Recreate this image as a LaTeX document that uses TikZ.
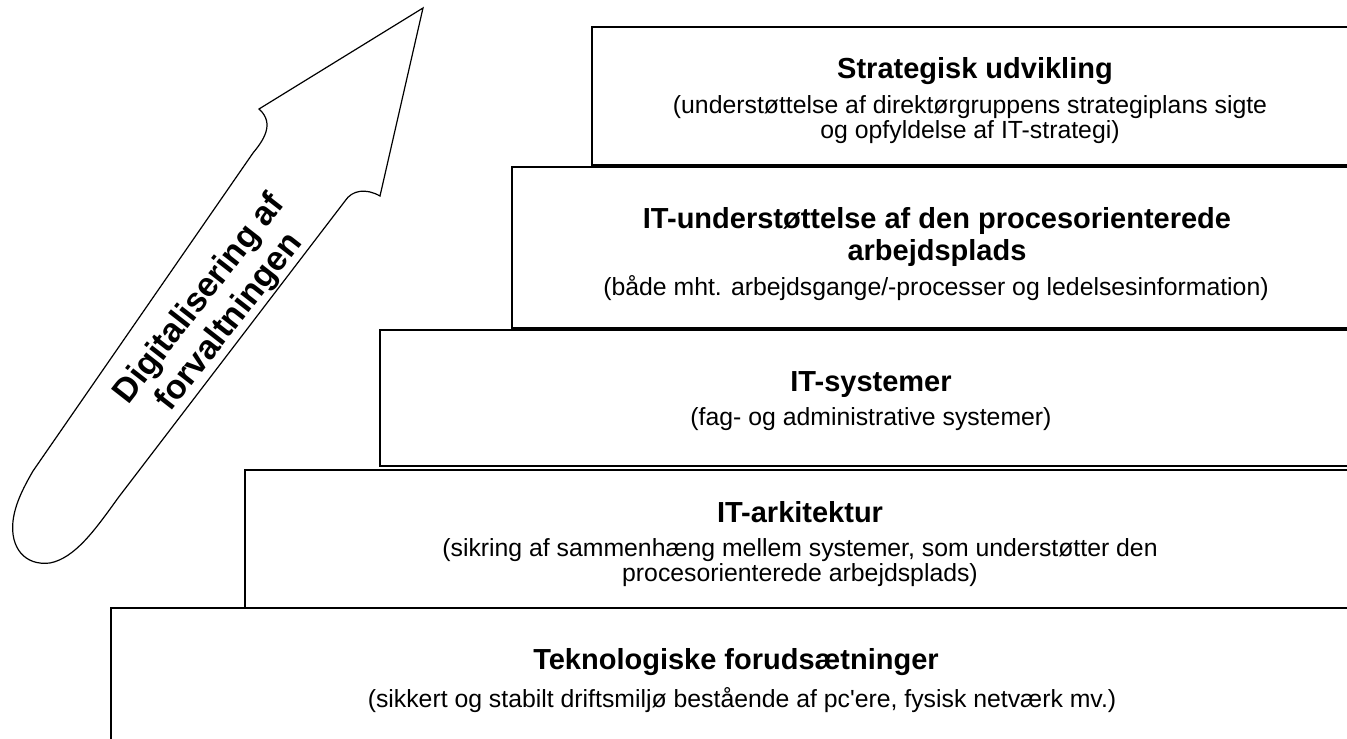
\documentclass[tikz,border=0pt]{standalone}
\usepackage{fontspec}
\newfontfamily\arialfont{Liberation Sans}
\begin{document}
\begin{tikzpicture}[x=1pt,y=-1pt,
  box/.style={draw=black,line width=1.3pt,fill=white,rectangle,inner sep=0pt,outer sep=0pt,anchor=north west},
  ttl/.style={font=\arialfont\fontsize{29}{32}\selectfont\bfseries,anchor=base,inner sep=0pt},
  body/.style={font=\arialfont\fontsize{24.8}{25}\selectfont,anchor=base,inner sep=0pt},
  arrowtxt/.style={font=\arialfont\fontsize{34}{38}\selectfont\bfseries,align=center,inner sep=0pt}]
\useasboundingbox (0,0) rectangle (1347,739);
\clip (0,0) rectangle (1347,739);
% boxes (right sides run off the picture)
\node[box,minimum width=800pt,minimum height=138pt] (b1) at (592,27) {};
\node[box,minimum width=880pt,minimum height=161pt] (b2) at (512,167) {};
\node[box,minimum width=1000pt,minimum height=136pt] (b3) at (380,330) {};
\node[box,minimum width=1150pt,minimum height=138pt] (b4) at (245,470) {};
\node[box,minimum width=1300pt,minimum height=200pt] (b5) at (111,608) {};
% texts
\node[ttl] (t1) at (975,78) {Strategisk udvikling};
\node[body] (s1a) at (970,113) {(understøttelse af direktørgruppens strategiplans sigte};
\node[body] (s1b) at (970,138) {og opfyldelse af IT-strategi)};
\node[ttl] (t2a) at (937,228) {IT-understøttelse af den procesorienterede};
\node[ttl] (t2b) at (937,260) {arbejdsplads};
\node[body] (s2) at (936,295) {(både mht. arbejdsgange/-processer og ledelsesinformation)};
\node[ttl] (t3) at (871,391) {IT-systemer};
\node[body] (s3) at (871,425) {(fag- og administrative systemer)};
\node[ttl] (t4) at (800,522) {IT-arkitektur};
\node[body] (s4a) at (800,556) {(sikring af sammenhæng mellem systemer, som understøtter den};
\node[body] (s4b) at (800,581) {procesorienterede arbejdsplads)};
\node[ttl] (t5) at (736,669) {Teknologiske forudsætninger};
\node[body] (s5) at (742,707) {(sikkert og stabilt driftsmiljø bestående af pc'ere, fysisk netværk mv.)};
% arrow
\draw[line width=1.2pt,fill=white,line join=miter]
  (259,109) -- (423,8) -- (380,196)
  .. controls (366,188) and (352,190) .. (345,201)
  -- (118,498)
  .. controls (95,530) and (75,558) .. (50,563)
  .. controls (25,566) and (10,548) .. (13,521)
  .. controls (15,505) and (22,490) .. (33,471)
  -- (253,153)
  .. controls (262,142) and (276,124) .. cycle;
\node[arrowtxt,rotate=52] (at) at (215,311) {Digitalisering af\\forvaltningen};
\end{tikzpicture}
\end{document}
